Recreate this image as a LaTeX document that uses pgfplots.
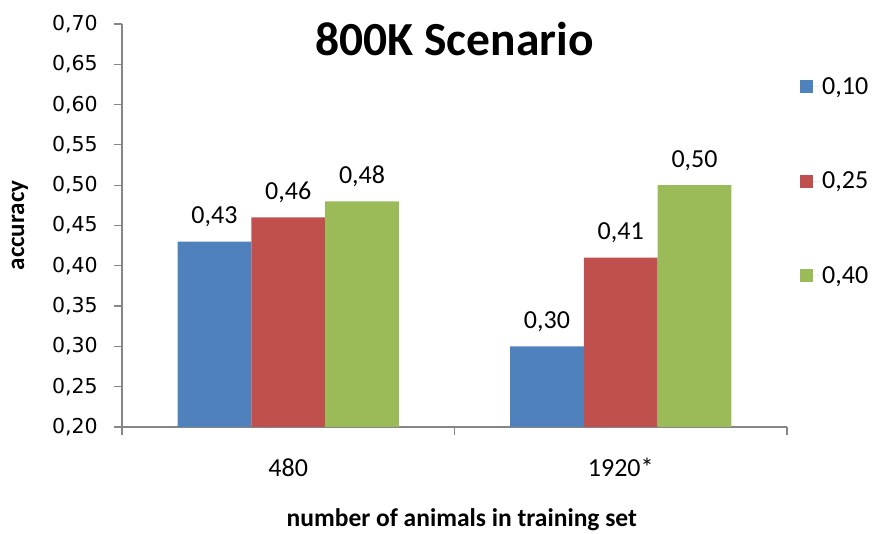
\documentclass[border=0pt]{standalone}
\usepackage{fontspec}
\setmainfont{Carlito}
\newfontfamily\dejavu{DejaVu Sans}
\usepackage{pgfplots}
\pgfplotsset{compat=1.18}

\definecolor{barblue}{HTML}{4F81BD}
\definecolor{barred}{HTML}{C0504D}
\definecolor{bargreen}{HTML}{9BBB59}
\definecolor{axgray}{HTML}{868686}

\begin{document}
\begin{tikzpicture}
\useasboundingbox (-122pt,-107pt) rectangle (753pt,427pt);
\begin{axis}[
  width=665pt, height=403pt, scale only axis,
  xmin=-0.5, xmax=1.5, ymin=0.2, ymax=0.7,
  clip=false,
  axis x line*=bottom, axis y line*=left,
  axis line style={draw=axgray, line width=1.2pt, -},
  ybar=0pt, bar width=0.222,
  tick align=outside,
  major tick length=8pt, minor tick length=8pt,
  ytick={0.2,0.25,0.3,0.35,0.4,0.45,0.5,0.55,0.6,0.65,0.7},
  yticklabels={0{,}20,0{,}25,0{,}30,0{,}35,0{,}40,0{,}45,0{,}50,0{,}55,0{,}60,0{,}65,0{,}70},
  yticklabel style={font=\dejavu\fontsize{20.5}{24}\selectfont, anchor=east, inner sep=0pt},
  every y tick label/.append style={xshift=-16pt},
  major y tick style={draw=axgray, line width=1.2pt},
  xtick={0,1}, xticklabels={480,1920*},
  major x tick style={draw=none},
  minor xtick={-0.5,0.5,1.5},
  minor x tick style={draw=axgray, line width=1.2pt},
  xticklabel style={font=\fontsize{26}{30}\selectfont, yshift=-20pt},
  title={\textbf{800K Scenario}},
  title style={font=\fontsize{47.5}{52}\selectfont, at={(axis description cs:0.5,0.908)}, anchor=base},
  ylabel={\textbf{accuracy}},
  ylabel style={font=\fontsize{25}{29}\selectfont, at={(axis description cs:-0.1534,0.5)}, anchor=center},
  xlabel={\textbf{number of animals in training set}},
  xlabel style={font=\fontsize{25.5}{29}\selectfont, at={(axis description cs:0.511,-0.2457)}, anchor=base},
  nodes near coords={\pgfmathprintnumber[fixed,fixed zerofill,precision=2,use comma,assume math mode=true]{\pgfplotspointmeta}},
  every node near coord/.append style={font=\fontsize{26}{30}\selectfont, anchor=base, yshift=18pt, inner sep=0pt, text=black},
  legend style={draw=none, fill=none, at={(axis description cs:1.015,0.61)}, anchor=west,
    font=\fontsize{26}{30}\selectfont, row sep=72pt},
  legend cell align=left,
  legend image code/.code={\fill[#1] (0pt,-6.5pt) rectangle (13pt,6.5pt); \path (0pt,0pt) -- (20pt,0pt);},
]
\addplot[fill=barblue, draw=none, bar shift=-0.222] coordinates {(0,0.43) (1,0.30)};
\addlegendentry{0,10}
\addplot[fill=barred, draw=none, bar shift=0] coordinates {(0,0.46) (1,0.41)};
\addlegendentry{0,25}
\addplot[fill=bargreen, draw=none, bar shift=0.222] coordinates {(0,0.48) (1,0.50)};
\addlegendentry{0,40}
\end{axis}
\end{tikzpicture}
\end{document}
